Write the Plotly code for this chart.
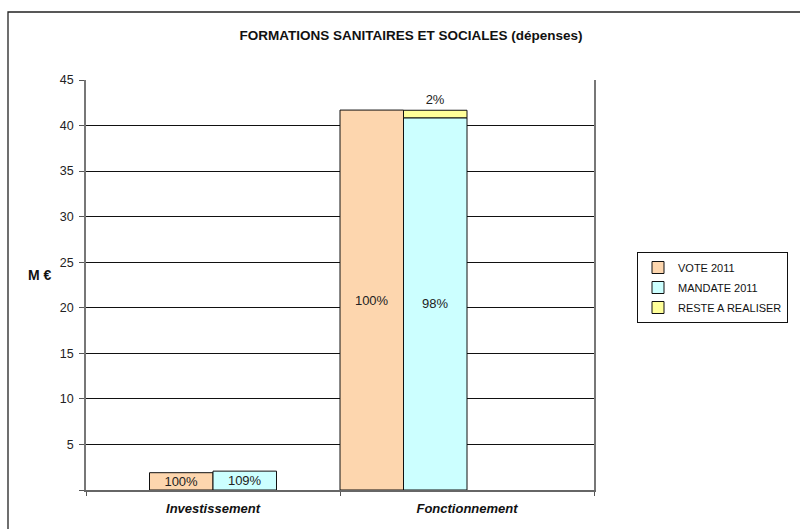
import plotly.graph_objects as go

categories = ["Investissement", "Fonctionnement"]
vote_2011 = [1.9, 41.7]
mandate_2011 = [2.07, 40.85]
reste_cat = ["Fonctionnement"]
reste_a_realiser = [0.83]
vote_labels = ["100%", "100%"]
mandate_labels = ["109%", "98%"]
reste_labels = ["2%"]
y_ticks = [0, 5, 10, 15, 20, 25, 30, 35, 40, 45]

FONT = "Liberation Sans, Arial, sans-serif"
W = 0.25

fig = go.Figure()
fig.add_trace(go.Bar(
    name="VOTE 2011", x=categories, y=vote_2011,
    offset=[-0.25, -0.5], width=W, legendgroup="a",
    marker=dict(color="#FDD6AE", line=dict(color="#111", width=1)),
    text=vote_labels, textposition="inside", insidetextanchor="middle",
    constraintext="none", textfont=dict(family=FONT, size=13, color="#222"),
))
fig.add_trace(go.Bar(
    name="MANDATE 2011", x=categories, y=mandate_2011,
    offset=[0, -0.25], width=W, legendgroup="b",
    marker=dict(color="#CCFFFF", line=dict(color="#111", width=1)),
    text=mandate_labels, textposition="inside", insidetextanchor="middle",
    constraintext="none", textfont=dict(family=FONT, size=13, color="#222"),
))
fig.add_trace(go.Bar(
    name="RESTE A REALISER", x=reste_cat, y=reste_a_realiser,
    base=[mandate_2011[categories.index(c)] for c in reste_cat],
    offset=-0.25, width=W, legendgroup="c",
    marker=dict(color="#FFFF99", line=dict(color="#111", width=1)),
    text=reste_labels, textposition="outside",
    constraintext="none", textfont=dict(family=FONT, size=13, color="#222"),
    cliponaxis=False,
))

fig.update_layout(
    width=800, height=529,
    margin=dict(l=86, r=206, t=80, b=39, autoexpand=False),
    paper_bgcolor="white", plot_bgcolor="white",
    barmode="overlay",
    font=dict(family=FONT, color="#222"),
    title=dict(text="<b>FORMATIONS SANITAIRES ET SOCIALES (dépenses)</b>",
               x=411 / 800, xanchor="center", y=1 - 35 / 529, yanchor="middle",
               font=dict(family=FONT, size=13.5, color="#111")),
    legend=dict(x=(637 - 86) / 508, y=(490 - 252) / 410, xanchor="left", yanchor="top",
                bordercolor="#111", borderwidth=1, bgcolor="white",
                font=dict(family=FONT, size=11, color="#111"),
                traceorder="grouped", tracegroupgap=1),
    showlegend=True,
)
fig.update_xaxes(
    type="category", range=[-0.5, 1.5],
    tickson="boundaries", ticks="outside", ticklen=4, tickcolor="#555",
    showline=True, linecolor="#666", linewidth=1.5,
    showgrid=False, zeroline=False, ticklabelstandoff=6,
    tickfont=dict(family=FONT, size=13, color="#111", weight="bold", style="italic"),
)
fig.update_yaxes(
    range=[0, 45], tickvals=y_ticks,
    ticktext=["" if v == 0 else str(v) for v in y_ticks],
    ticks="outside", ticklen=5, tickcolor="#555",
    showline=True, linecolor="#777", linewidth=1.5, mirror=True,
    showgrid=True, gridcolor="#111", gridwidth=1, zeroline=False,
    ticklabelstandoff=3,
    tickfont=dict(family=FONT, size=12.5, color="#222"),
)
fig.add_annotation(text="<b>M €</b>", xref="paper", yref="paper",
                   x=(40 - 86) / 508, y=(490 - 275) / 410, showarrow=False,
                   xanchor="center", yanchor="middle",
                   font=dict(family=FONT, size=14, color="#111"))
fig.add_shape(type="rect", xref="paper", yref="paper",
              x0=(8 - 86) / 508, x1=(820 - 86) / 508,
              y0=(490 - 545) / 410, y1=1 + (80 - 12) / 410,
              line=dict(color="#222", width=1.3), layer="below")

fig.write_html("out.html", config={"displayModeBar": False},
               post_script="document.body.style.margin='0';document.body.style.overflow='hidden';")
